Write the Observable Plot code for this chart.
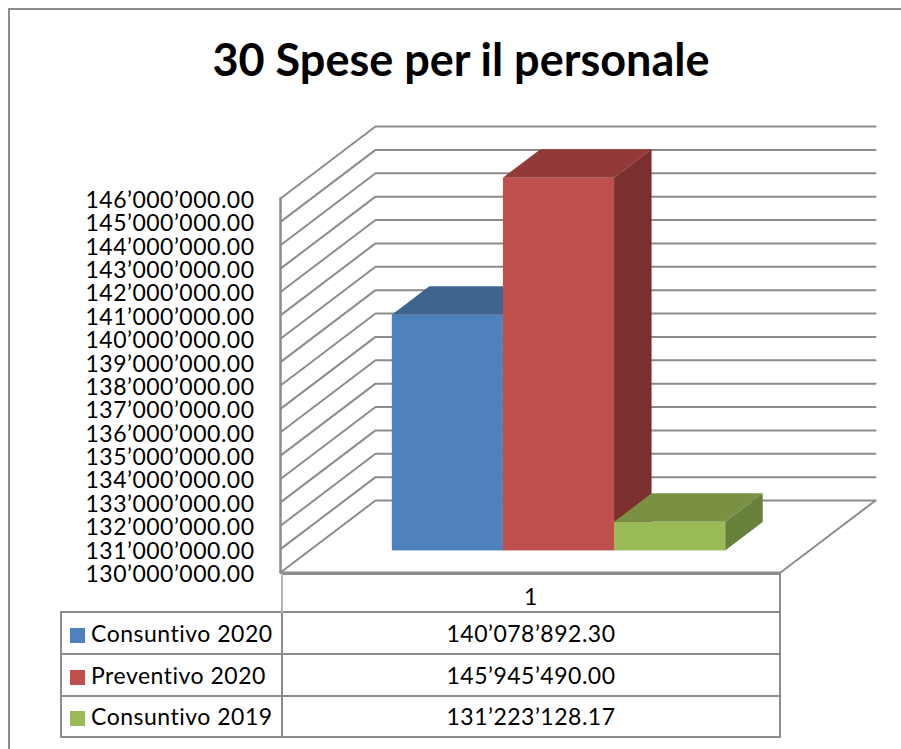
<!DOCTYPE html>
<html>
<head>
<meta charset="utf-8">
<script src="https://cdn.jsdelivr.net/npm/d3@7"></script>
<script src="https://cdn.jsdelivr.net/npm/@observablehq/plot@0.6"></script>
<style>
html,body{margin:0;padding:0;background:#fff;}
body{width:901px;height:749px;overflow:hidden;font-family:Lato,"Open Sans",sans-serif;color:#000;}
#frame{position:absolute;left:8px;top:8px;width:900px;height:800px;border:2px solid #8c8c8c;box-sizing:border-box;pointer-events:none;}
#title{height:110px;line-height:119px;text-align:center;font-weight:700;font-size:45px;padding-left:21px;box-sizing:border-box;margin:0;}
svg{display:block;overflow:visible;}
table{border-collapse:collapse;margin-left:60px;table-layout:fixed;width:721px;font-size:23px;letter-spacing:.5px;}
td{border:2px solid #8c8c8c;padding:0;text-align:center;white-space:nowrap;line-height:1;}
td.name{width:220px;text-align:left;}
td.blank{border:none;border-right:2px solid #b5b5b5;}
td.cat{padding-top:6px;}
.sw{display:inline-block;width:15px;height:15px;margin:0 6px 0 8px;vertical-align:-1px;}
</style>
</head>
<body>
<div id="frame"></div>
<h1 id="title"></h1>
<div id="chart"></div>
<div id="table"></div>
<script>
const chartTitle = "30 Spese per il personale";
const category = "1";
const seriesNames = ["Consuntivo 2020", "Preventivo 2020", "Consuntivo 2019"];
const seriesValues = [140078892.30, 145945490.00, 131223128.17];
const valueLabels = ["140’078’892.30", "145’945’490.00", "131’223’128.17"];
const axisTicks = [130,131,132,133,134,135,136,137,138,139,140,141,142,143,144,145,146].map(m => m * 1e6);
const frontColors = ["#4F81BD", "#C0504D", "#9BBB59"];
const topColors = ["#3F648E", "#933A38", "#7A9144"];
const sideColors = ["#3A5F8A", "#7B2F2E", "#67803A"];
const lineColor = "#8c8c8c";
const rowHeights = [37, 40, 40, 39];

// Oblique 3D: each unit of depth moves a point right and up, in scale units.
const gap = 0.75, depthX = 0.855, depthV = 3.08e6, zFront = 0.30, zBack = 0.695;
const base = axisTicks[0], xMin = -gap, xMax = seriesValues.length + gap;
const at = (x, v, z) => ({x: x + z * depthX, y: v + z * depthV});

const grid = axisTicks.flatMap(v => [at(xMin, v, 0), at(xMin, v, 1), at(xMax, v, 1)].map(p => ({...p, v})));
const floor = [at(xMin, base, 0), at(xMax, base, 0), at(xMax, base, 1)];
const wall = [at(xMin, base, 0), at(xMin, axisTicks[axisTicks.length - 1], 0)];

const face = (a, b, c, d) => [{x1: a.x, y1: a.y, x2: b.x, y2: b.y}, {x1: d.x, y1: d.y, x2: c.x, y2: c.y}];

const barMarks = seriesValues.flatMap((v, i) => {
  const fl = at(i, base, zFront), tr = at(i + 1, v, zFront), tl = at(i, v, zFront), br = at(i + 1, base, zFront);
  const top = face(tl, tr, at(i + 1, v, zBack), at(i, v, zBack));
  const side = face(br, tr, at(i + 1, v, zBack), at(i + 1, base, zBack));
  const area = {x1: "x1", y1: "y1", x2: "x2", y2: "y2"};
  return [
    Plot.area(top, {...area, fill: topColors[i]}),
    Plot.area(side, {...area, fill: sideColors[i]}),
    Plot.rect([0], {x1: fl.x, x2: br.x, y1: fl.y, y2: tr.y, fill: frontColors[i]})
  ];
});

const plot = Plot.plot({
  width: 901,
  height: 463,
  marginLeft: 280,
  marginRight: 121,
  marginTop: 88,
  marginBottom: 1,
  style: {background: "transparent", fontFamily: "Lato, 'Open Sans', sans-serif", color: "#000", letterSpacing: ".5px", overflow: "visible"},
  x: {domain: [xMin, xMax], axis: null},
  y: {domain: [base, axisTicks[axisTicks.length - 1]], axis: null},
  marks: [
    Plot.line(grid, {x: "x", y: "y", z: "v", stroke: lineColor, strokeWidth: 2}),
    Plot.line(floor, {x: "x", y: "y", stroke: lineColor, strokeWidth: 2}),
    Plot.line(wall, {x: "x", y: "y", stroke: lineColor, strokeWidth: 2.5}),
    ...barMarks,
    Plot.axisY({
      anchor: "left",
      ticks: axisTicks,
      tickSize: 0,
      tickPadding: 26,
      label: null,
      fontSize: 23,
      dy: 2,
      tickFormat: v => d3.format(",.2f")(v).replace(/,/g, "’")
    })
  ]
});
document.getElementById("chart").append(plot);
document.getElementById("title").textContent = chartTitle;

const table = d3.select("#table").append("table");
const head = table.append("tr");
head.append("td").attr("class", "name blank").style("height", rowHeights[0] + "px");
head.append("td").attr("class", "cat").text(category);
seriesNames.forEach((name, i) => {
  const row = table.append("tr");
  const cell = row.append("td").attr("class", "name").style("height", rowHeights[i + 1] + "px");
  cell.append("span").attr("class", "sw").style("background", frontColors[i]);
  cell.append("span").text(name);
  row.append("td").text(valueLabels[i]);
});
</script>
</body>
</html>
